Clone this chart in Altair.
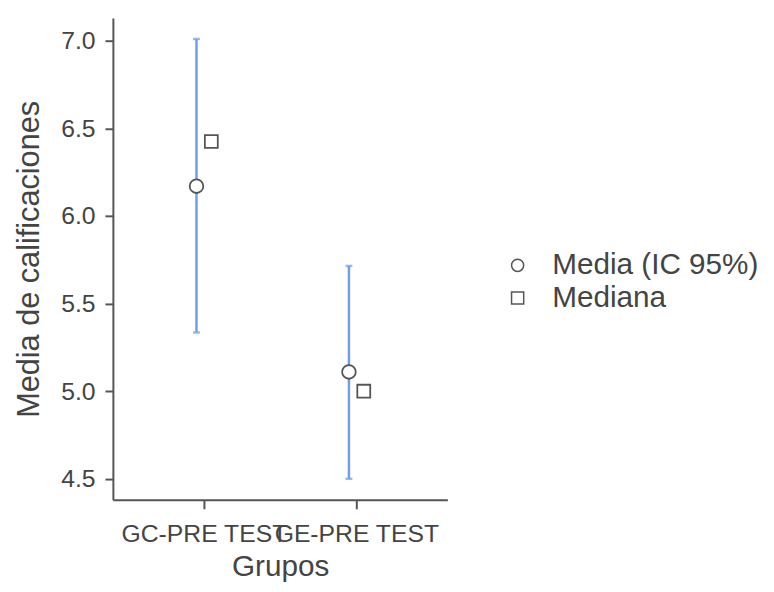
import altair as alt
import pandas as pd

grupos = ["GC-PRE TEST", "GE-PRE TEST"]
media = [6.17, 5.11]
ic_inf = [5.335, 4.50]
ic_sup = [7.01, 5.715]
mediana = [6.425, 5.00]
y_ticks = [4.5, 5.0, 5.5, 6.0, 6.5, 7.0]
leyenda = ["Media (IC 95%)", "Mediana"]

df = pd.DataFrame({
    "Grupo": grupos,
    "media": media,
    "inf": ic_inf,
    "sup": ic_sup,
    "mediana": mediana,
    "t_media": [leyenda[0]] * len(grupos),
    "t_mediana": [leyenda[1]] * len(grupos),
})

FONT = "Liberation Sans"
BLUE = "#6d9ef2"
GRAY = "#555555"

x = alt.X("Grupo:N", title="Grupos",
          scale=alt.Scale(type="point", padding=0.597, domain=grupos),
          axis=alt.Axis(labelAngle=0, labelOverlap=False, labelFontSize=25,
                        titleFontSize=30, labelPadding=13, titlePadding=5,
                        tickSize=9))
yscale = alt.Scale(domain=[4.38, 7.13], nice=False, zero=False)
yaxis = alt.Axis(values=y_ticks, format=".1f", labelFontSize=25, titleFontSize=31,
                 labelPadding=10, titlePadding=15, tickSize=8)

base = alt.Chart(df)

rule = base.mark_rule(color=BLUE, strokeWidth=2.5, xOffset=-7.5).encode(
    x=x,
    y=alt.Y("inf:Q", scale=yscale, axis=yaxis, title="Media de calificaciones"),
    y2="sup:Q",
)
cap_lo = base.mark_tick(color=BLUE, thickness=2.5, size=7, xOffset=-7.5).encode(
    x=x, y=alt.Y("inf:Q", scale=yscale))
cap_hi = base.mark_tick(color=BLUE, thickness=2.5, size=7, xOffset=-7.5).encode(
    x=x, y=alt.Y("sup:Q", scale=yscale))

shape_scale = alt.Scale(domain=leyenda, range=["circle", "square"])
legend = alt.Legend(title=None, orient="none", legendX=394, legendY=235,
                    labelFontSize=30, labelFont=FONT, labelColor="#444444",
                    labelLimit=400, symbolSize=150, symbolStrokeWidth=1.5,
                    symbolOpacity=1, labelOffset=20, rowPadding=3, padding=0)

bg_mean = base.mark_point(filled=True, color="white", opacity=1, size=190,
                          shape="circle", xOffset=-7.5).encode(
    x=x, y=alt.Y("media:Q", scale=yscale))
bg_med = base.mark_point(filled=True, color="white", opacity=1, size=170,
                         shape="square", xOffset=7.5).encode(
    x=x, y=alt.Y("mediana:Q", scale=yscale))

pts_mean = base.mark_point(filled=False, color=GRAY, strokeWidth=1.8,
                           opacity=1, size=190, xOffset=-7.5).encode(
    x=x,
    y=alt.Y("media:Q", scale=yscale),
    shape=alt.Shape("t_media:N", scale=shape_scale, legend=legend),
)
pts_med = base.mark_point(filled=False, color=GRAY, strokeWidth=1.8,
                          opacity=1, size=170, xOffset=7.5).encode(
    x=x,
    y=alt.Y("mediana:Q", scale=yscale),
    shape=alt.Shape("t_mediana:N", scale=shape_scale, legend=legend),
)

chart = alt.layer(rule, cap_lo, cap_hi, bg_mean, bg_med, pts_mean, pts_med).properties(
    width=338, height=487,
    autosize=alt.AutoSizeParams(type="none"),
    padding={"left": 106, "top": 7, "right": 322, "bottom": 82},
).configure_view(stroke=None).configure_axis(
    labelFont=FONT, titleFont=FONT, labelColor="#444444", titleColor="#444444",
    domainColor="#555555", domainWidth=2, tickColor="#555555", tickWidth=2,
    grid=False, titleFontWeight="normal",
)

chart.save("out.html", embed_options={"renderer": "svg", "actions": False})
